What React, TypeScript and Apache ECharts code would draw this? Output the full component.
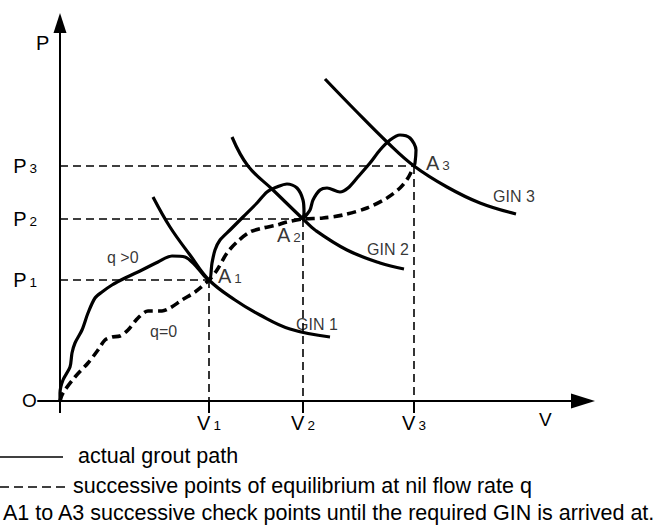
import React, { useEffect, useRef } from 'react';
import * as echarts from 'echarts';

// Coordinates: V and P measured from origin O (arbitrary diagram units)
const V_TICKS = [149, 243, 354];
const V_SUBS = ['1', '2', '3'];
const P_TICKS = [121, 182, 235];
const P_SUBS = ['1', '2', '3'];

const CHECK_POINTS: [number, number][] = [
  [149, 121],
  [243, 182],
  [354, 235],
];
const CHECK_NAMES = ['1', '2', '3'];

const GROUT_PATH: [number, number][] = [
  [0, 0], [0, 8], [3, 21], [10, 34], [12, 48], [15, 58], [22, 71], [28, 88],
  [35, 103], [42, 109], [52, 116], [65, 123], [82, 131], [98, 139], [112, 145],
  [125, 144], [135, 136], [149, 121],
  [152, 138], [155, 151], [160, 161], [170, 171], [183, 184], [197, 198],
  [207, 209], [217, 214], [227, 217], [237, 213], [243, 201], [244, 188], [243, 182],
  [250, 191], [253, 201], [260, 211], [267, 213], [280, 209], [288, 213],
  [297, 223], [310, 238], [320, 251], [330, 261], [340, 266], [350, 263],
  [356, 251], [355, 238], [354, 235],
];

const EQUILIBRIUM_PATH: [number, number][] = [
  [0, 0], [3, 8], [15, 24], [28, 38], [38, 51], [45, 61], [52, 64], [60, 65],
  [68, 71], [78, 83], [88, 90], [102, 90], [110, 93], [122, 101], [135, 109],
  [149, 121],
  [157, 131], [167, 148], [177, 159], [190, 169], [203, 173], [217, 176],
  [227, 179], [243, 182],
  [263, 183], [283, 186], [307, 193], [327, 203], [340, 213], [348, 223], [354, 235],
];

const GIN1: [number, number][] = [
  [93, 204], [110, 174], [130, 146], [149, 121], [175, 101], [200, 86], [230, 72], [270, 64],
];
const GIN2: [number, number][] = [
  [172, 264], [188, 235], [213, 211], [243, 182], [255, 171], [287, 151], [320, 138], [344, 132],
];
const GIN3: [number, number][] = [
  [265, 322], [295, 291], [327, 259], [354, 235], [387, 214], [420, 198], [456, 187],
];
const GIN_NAMES = ['GIN 1', 'GIN 2', 'GIN 3'];

const FONT = '"Liberation Sans", Arial, Helvetica, sans-serif';

export default function App() {
  const ref = useRef<HTMLDivElement>(null);

  useEffect(() => {
    if (!ref.current) return;
    const chart = echarts.init(ref.current, null, { renderer: 'svg' });

    const subRich = {
      m: { fontSize: 20, fontFamily: FONT, color: '#000', verticalAlign: 'bottom' },
      s: { fontSize: 13.5, fontFamily: FONT, color: '#000', verticalAlign: 'bottom', padding: [0, 0, 1, 3] },
    };

    const refLines: any[] = [];
    CHECK_POINTS.forEach(([v, p]) => {
      refLines.push({
        type: 'line',
        data: [[0, p], [v, p]],
        symbol: 'none',
        lineStyle: { color: '#000', width: 1.6, type: [8, 5] },
        z: 1,
      });
      refLines.push({
        type: 'line',
        data: [[v, p], [v, 0]],
        symbol: 'none',
        lineStyle: { color: '#000', width: 1.6, type: [8, 5] },
        z: 1,
      });
    });

    const ginSeries = [GIN1, GIN2, GIN3].map((d) => ({
      type: 'line',
      data: d,
      smooth: 0.4,
      symbol: 'none',
      lineStyle: { color: '#000', width: 3.2 },
      z: 3,
    }));

    const ginLabelOffsets = [
      [-34, -13],
      [-37, -20],
      [-23, -18],
    ];
    const checkLabelOffsets = [
      [9, -4],
      [-26, 16],
      [12, -3],
    ];

    const annotations: any[] = [];
    [GIN1, GIN2, GIN3].forEach((d, i) => {
      annotations.push({
        value: d[d.length - 1],
        label: {
          show: true,
          position: 'right',
          distance: 0,
          offset: ginLabelOffsets[i],
          formatter: GIN_NAMES[i],
          fontSize: 16,
          fontFamily: FONT,
          color: '#000',
        },
      });
    });
    CHECK_POINTS.forEach((pt, i) => {
      annotations.push({
        value: pt,
        label: {
          show: true,
          position: 'right',
          distance: 0,
          offset: checkLabelOffsets[i],
          formatter: `{m|A}{s|${CHECK_NAMES[i]}}`,
          rich: subRich,
        },
      });
    });
    annotations.push({
      value: GROUT_PATH[12],
      label: {
        show: true, position: 'right', distance: 0, offset: [-35, -13],
        formatter: 'q >0', fontSize: 16, fontFamily: FONT, color: '#000',
      },
    });
    annotations.push({
      value: EQUILIBRIUM_PATH[8],
      label: {
        show: true, position: 'right', distance: 0, offset: [22, 1],
        formatter: 'q=0', fontSize: 16, fontFamily: FONT, color: '#000',
      },
    });

    chart.setOption({
      animation: false,
      backgroundColor: '#fff',
      grid: { left: 38, right: 84, top: 23, bottom: 126, containLabel: false, outerBoundsMode: 'none' },
      xAxis: {
        type: 'value',
        min: -22,
        max: 523,
        splitLine: { show: false },
        axisLine: {
          onZero: true,
          symbol: ['none', 'triangle'],
          symbolSize: [15, 24],
          lineStyle: { color: '#000', width: 2 },
        },
        axisTick: {
          show: true,
          customValues: [0, ...V_TICKS],
          length: 12,
          lineStyle: { color: '#000', width: 2 },
        },
        axisLabel: {
          show: true,
          customValues: V_TICKS,
          margin: 12,
          formatter: (val: number) => `{m|V}{s|${V_SUBS[V_TICKS.indexOf(val)]}}`,
          rich: subRich,
        },
      },
      yAxis: {
        type: 'value',
        min: 0,
        max: 378,
        splitLine: { show: false },
        axisLine: {
          onZero: true,
          symbol: ['none', 'triangle'],
          symbolSize: [13, 20],
          lineStyle: { color: '#000', width: 2 },
        },
        axisTick: { show: false },
        axisLabel: {
          show: true,
          customValues: P_TICKS,
          margin: 1,
          formatter: (val: number) => `{m|P}{s|${P_SUBS[P_TICKS.indexOf(val)]}}`,
          rich: subRich,
        },
      },
      series: [
        ...refLines,
        ...ginSeries,
        {
          type: 'line',
          data: EQUILIBRIUM_PATH,
          smooth: 0.3,
          symbol: 'none',
          lineStyle: { color: '#000', width: 3.6, type: [9, 5] },
          z: 2,
        },
        {
          type: 'line',
          data: GROUT_PATH,
          smooth: 0.3,
          symbol: 'none',
          lineStyle: { color: '#000', width: 3.2 },
          z: 4,
        },
        {
          type: 'scatter',
          data: annotations,
          symbolSize: 0,
          silent: true,
          z: 5,
        },
      ],
      graphic: [
        { type: 'text', left: 36, top: 33, style: { text: 'P', fontSize: 20, fontFamily: FONT, fill: '#000' } },
        { type: 'text', left: 539, top: 410, style: { text: 'V', fontSize: 19, fontFamily: FONT, fill: '#000' } },
        { type: 'text', left: 22, top: 391, style: { text: 'O', fontSize: 19, fontFamily: FONT, fill: '#000' } },
        { type: 'line', shape: { x1: 0, y1: 457, x2: 63, y2: 457 }, style: { stroke: '#000', lineWidth: 1.6 } },
        { type: 'line', shape: { x1: 0, y1: 487, x2: 67, y2: 487 }, style: { stroke: '#000', lineWidth: 1.6, lineDash: [9, 5] } },
        { type: 'text', left: 78, top: 445, style: { text: 'actual grout path', fontSize: 21.5, fontFamily: FONT, fill: '#000' } },
        { type: 'text', left: 73, top: 475, style: { text: 'successive points of equilibrium at nil flow rate q', fontSize: 21.5, fontFamily: FONT, fill: '#000' } },
        { type: 'text', left: 3, top: 502, style: { text: 'A1 to A3 successive check points until the required GIN is arrived at.', fontSize: 21.5, fontFamily: FONT, fill: '#000' } },
      ],
    });

    return () => chart.dispose();
  }, []);

  return <div ref={ref} style={{ width: 667, height: 527, position: 'absolute', left: 0, top: 0 }} />;
}
